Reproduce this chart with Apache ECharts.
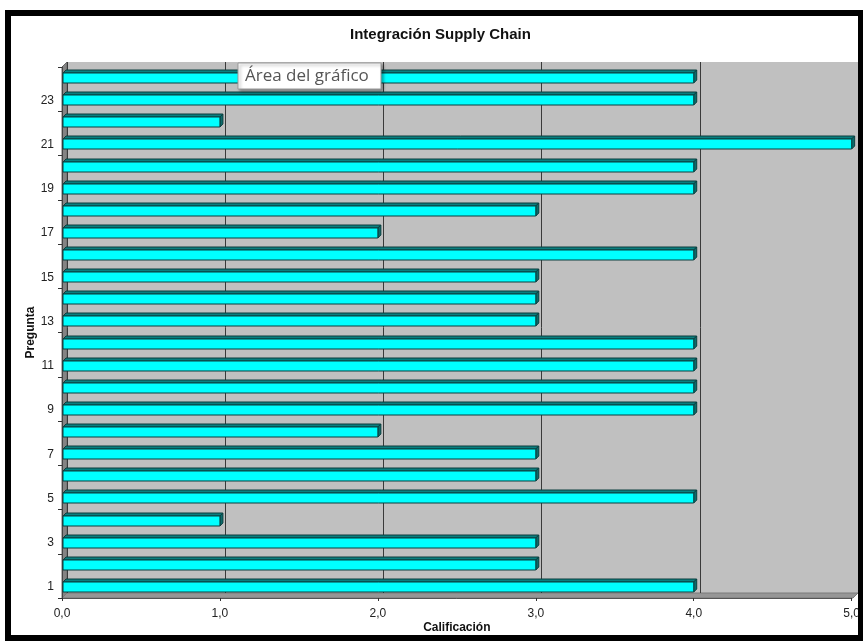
<!DOCTYPE html>
<html>
<head>
<meta charset="utf-8">
<script src="https://cdn.jsdelivr.net/npm/echarts@6/dist/echarts.min.js"></script>
<style>
  html, body { margin: 0; padding: 0; background: #fff; }
  #chart { width: 863px; height: 642px; }
</style>
</head>
<body>
<div id="chart"></div>
<script>
// Question numbers (category axis) and their scores
const questions = ['1','2','3','4','5','6','7','8','9','10','11','12',
                   '13','14','15','16','17','18','19','20','21','22','23','24'];
const scores = [4, 3, 3, 1, 4, 3, 3, 2, 4, 4, 4, 4,
                3, 3, 3, 4, 2, 3, 4, 4, 5, 1, 4, 4];
// Score axis range
const scoreMin = 0;
const scoreMax = 5;
const scoreStep = 1;

// Plot geometry: front plane and the 3D depth offset of the back wall
const FRONT = { left: 62, top: 67, width: 791, height: 531 };
const DEPTH = 5;
const BACK = { left: FRONT.left + DEPTH, top: FRONT.top - DEPTH, width: FRONT.width, height: FRONT.height };

const FONT = '"Liberation Sans", Arial, sans-serif';
const fmt = v => v.toFixed(1).replace('.', ',');

const chart = echarts.init(document.getElementById('chart'), null, { renderer: 'canvas' });

// Draws one 3D bar: front face, top face and end cap
function renderBar(params, api) {
  const cat = api.value(0);
  const val = api.value(1);
  const start = api.coord([0, cat]);
  const end = api.coord([val, cat]);
  const band = api.size([0, 1])[1];
  const h = Math.round(band * 0.44);
  const d = 3;
  const x0 = start[0] + 1;
  const x1 = end[0];
  const y = Math.round(end[1] - h / 2);
  const edge = '#0b3f3f';
  return {
    type: 'group',
    children: [
      {
        type: 'polygon',
        shape: { points: [[x0, y], [x0 + d, y - d], [x1 + d, y - d], [x1, y]] },
        style: { fill: '#0a7f7f', stroke: edge, lineWidth: 1 }
      },
      {
        type: 'polygon',
        shape: { points: [[x1, y], [x1 + d, y - d], [x1 + d, y + h - d], [x1, y + h]] },
        style: { fill: '#0a6b6b', stroke: edge, lineWidth: 1 }
      },
      {
        type: 'rect',
        shape: { x: x0, y: y, width: x1 - x0, height: h },
        style: { fill: '#00ffff', stroke: edge, lineWidth: 1 }
      }
    ]
  };
}

const option = {
  animation: false,
  backgroundColor: '#ffffff',
  title: {
    text: 'Integración Supply Chain',
    left: 345,
    top: 22,
    textStyle: { fontFamily: FONT, fontSize: 15, fontWeight: 'bold', color: '#111' }
  },
  grid: [
    // front plane (axes, labels, bars)
    { left: FRONT.left, top: FRONT.top, width: FRONT.width, height: FRONT.height, containLabel: false },
    // back wall (grey panel with gridlines)
    { left: BACK.left, top: BACK.top, width: BACK.width, height: BACK.height, containLabel: false,
      show: true, backgroundColor: '#c0c0c0', borderWidth: 0, z: 0 }
  ],
  xAxis: [
    {
      type: 'value', gridIndex: 0, min: scoreMin, max: scoreMax, interval: scoreStep,
      name: 'Calificación', nameLocation: 'middle', nameGap: 24, nameMoveOverlap: false,
      nameTextStyle: { fontFamily: FONT, fontSize: 12, fontWeight: 'bold', color: '#111' },
      axisLine: { show: true, lineStyle: { color: '#555', width: 1 } },
      axisTick: { show: true, length: 3, lineStyle: { color: '#333' } },
      axisLabel: { formatter: fmt, fontFamily: FONT, fontSize: 12, color: '#222', margin: 10 },
      splitLine: { show: false },
      z: 3
    },
    {
      type: 'value', gridIndex: 1, min: scoreMin, max: scoreMax, interval: scoreStep,
      axisLine: { show: false }, axisTick: { show: false }, axisLabel: { show: false },
      splitLine: { show: true, lineStyle: { color: '#3a3a3a', width: 1 } },
      z: 1
    }
  ],
  yAxis: [
    {
      type: 'category', gridIndex: 0, data: questions,
      name: 'Pregunta', nameLocation: 'middle', nameGap: 25, nameRotate: 90, nameMoveOverlap: false,
      nameTextStyle: { fontFamily: FONT, fontSize: 12, fontWeight: 'bold', color: '#111' },
      axisLine: { show: true, lineStyle: { color: '#444', width: 1 } },
      axisTick: { show: true, length: 4, alignWithLabel: false, lineStyle: { color: '#333' } },
      axisLabel: { interval: 1, fontFamily: FONT, fontSize: 12, color: '#222', margin: 8 },
      z: 3
    },
    {
      type: 'category', gridIndex: 1, data: questions,
      axisLine: { show: false }, axisTick: { show: false }, axisLabel: { show: false },
      splitLine: { show: false }, z: 1
    }
  ],
  graphic: [
    // left side wall
    {
      type: 'polygon', z: 1,
      shape: { points: [
        [FRONT.left, FRONT.top], [BACK.left, BACK.top],
        [BACK.left, BACK.top + BACK.height], [FRONT.left, FRONT.top + FRONT.height]
      ] },
      style: { fill: '#848484', stroke: '#6a6a6a', lineWidth: 1 }
    },
    // floor
    {
      type: 'polygon', z: 1,
      shape: { points: [
        [FRONT.left, FRONT.top + FRONT.height], [BACK.left, BACK.top + BACK.height],
        [BACK.left + BACK.width, BACK.top + BACK.height], [FRONT.left + FRONT.width, FRONT.top + FRONT.height]
      ] },
      style: { fill: '#969696', stroke: '#7a7a7a', lineWidth: 1 }
    },
    // tooltip-style label over the plot
    {
      type: 'group', zlevel: 2, z: 50, x: 238, y: 63,
      children: [
        { type: 'rect', zlevel: 2, z: 50, shape: { x: 0, y: 0, width: 143, height: 26 },
          style: { fill: '#ffffff', stroke: '#9a9a9a', lineWidth: 1,
                   shadowColor: 'rgba(0,0,0,0.35)', shadowBlur: 3, shadowOffsetX: 2, shadowOffsetY: 2 } },
        { type: 'text', zlevel: 2, z: 51, x: 7, y: 13,
          style: { text: 'Área del gráfico', fill: '#555', font: '17px "Open Sans", "Noto Sans", sans-serif',
                   textVerticalAlign: 'middle' } }
      ]
    },
    // outer black frame
    {
      type: 'rect', zlevel: 2, z: 60,
      shape: { x: 8, y: 13, width: 853, height: 625 },
      style: { fill: null, stroke: '#000', lineWidth: 6 }
    }
  ],
  series: [
    {
      type: 'custom',
      xAxisIndex: 0, yAxisIndex: 0,
      z: 10,
      clip: false,
      renderItem: renderBar,
      encode: { y: 0, x: 1 },
      data: questions.map((q, i) => [i, scores[i]])
    }
  ]
};

chart.setOption(option);
</script>
</body>
</html>
